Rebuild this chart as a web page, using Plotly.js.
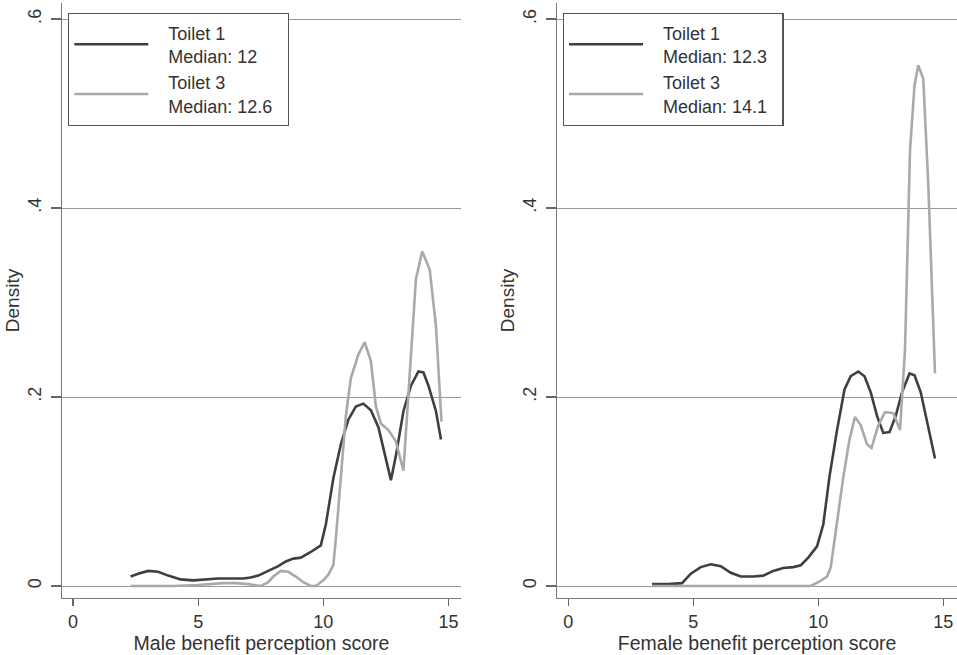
<!DOCTYPE html>
<html>
<head>
<meta charset="utf-8">
<script src="https://cdn.plot.ly/plotly-3.0.1.min.js"></script>
<style>html,body{margin:0;padding:0;background:#fff;}#chart{width:957px;height:655px;}</style>
</head>
<body>
<div id="chart"></div>
<script>
// Male panel
var maleX1 = [2.3, 2.6, 3.0, 3.4, 3.8, 4.3, 4.8, 5.3, 5.8, 6.3, 6.8, 7.1, 7.4, 7.8, 8.2, 8.5, 8.8, 9.1, 9.5, 9.9, 10.1, 10.4, 10.7, 11.0, 11.3, 11.6, 11.9, 12.2, 12.5, 12.7, 12.9, 13.2, 13.5, 13.8, 14.0, 14.2, 14.5, 14.7];
var maleY1 = [0.010, 0.013, 0.016, 0.015, 0.011, 0.007, 0.006, 0.007, 0.008, 0.008, 0.008, 0.009, 0.011, 0.016, 0.021, 0.026, 0.029, 0.030, 0.036, 0.043, 0.065, 0.114, 0.150, 0.176, 0.190, 0.193, 0.186, 0.168, 0.135, 0.112, 0.138, 0.185, 0.212, 0.227, 0.226, 0.212, 0.185, 0.155];
var maleX3 = [2.3, 3.0, 4.0, 5.0, 5.5, 6.0, 6.5, 7.0, 7.5, 7.8, 8.0, 8.3, 8.6, 8.9, 9.2, 9.5, 9.7, 10.0, 10.2, 10.4, 10.5, 10.7, 10.9, 11.1, 11.4, 11.65, 11.9, 12.1, 12.3, 12.6, 12.9, 13.2, 13.45, 13.7, 13.95, 14.25, 14.5, 14.72];
var maleY3 = [0.000, 0.000, 0.000, 0.001, 0.002, 0.003, 0.003, 0.002, 0.000, 0.004, 0.010, 0.016, 0.015, 0.010, 0.004, 0.000, 0.000, 0.006, 0.012, 0.022, 0.050, 0.120, 0.180, 0.220, 0.245, 0.258, 0.238, 0.190, 0.172, 0.165, 0.153, 0.122, 0.230, 0.325, 0.354, 0.335, 0.275, 0.174];
// Female panel
var femaleX1 = [3.35, 4.0, 4.55, 4.9, 5.3, 5.7, 6.1, 6.5, 6.9, 7.4, 7.8, 8.2, 8.6, 9.0, 9.3, 9.6, 9.95, 10.2, 10.45, 10.75, 11.05, 11.3, 11.6, 11.85, 12.1, 12.35, 12.6, 12.85, 13.1, 13.35, 13.65, 13.85, 14.1, 14.35, 14.67];
var femaleY1 = [0.002, 0.002, 0.003, 0.013, 0.020, 0.023, 0.021, 0.014, 0.010, 0.010, 0.011, 0.016, 0.019, 0.020, 0.022, 0.030, 0.042, 0.065, 0.116, 0.165, 0.208, 0.222, 0.227, 0.222, 0.205, 0.180, 0.162, 0.163, 0.180, 0.205, 0.225, 0.223, 0.205, 0.175, 0.135];
var femaleX3 = [3.35, 5.0, 7.0, 9.0, 9.7, 10.0, 10.35, 10.5, 10.75, 11.0, 11.25, 11.47, 11.7, 11.95, 12.13, 12.4, 12.67, 13.0, 13.27, 13.47, 13.67, 13.85, 14.0, 14.2, 14.4, 14.55, 14.67];
var femaleY3 = [0.000, 0.000, 0.000, 0.000, 0.000, 0.004, 0.010, 0.020, 0.070, 0.115, 0.155, 0.179, 0.170, 0.150, 0.146, 0.170, 0.184, 0.183, 0.165, 0.250, 0.461, 0.530, 0.551, 0.537, 0.426, 0.320, 0.225];

var legendMale = ['Toilet 1<br>Median: 12', 'Toilet 3<br>Median: 12.6'];
var legendFemale = ['Toilet 1<br>Median: 12.3', 'Toilet 3<br>Median: 14.1'];
var xTitles = ['Male benefit perception score', 'Female benefit perception score'];
var yTitle = 'Density';
var xTickVals = [0, 5, 10, 15];
var yTickVals = [0, 0.2, 0.4, 0.6];
var yTickText = ['0', '.2', '.4', '.6'];

// indent legend text (space between sample line and label, as in the reference)
function pad(s) { return s.split('<br>').map(function (t) { return '\u00a0\u00a0\u00a0' + t + '\u00a0\u00a0'; }).join('<br>'); }

var dark = '#3f3f3f', light = '#a9a9a9';
var traces = [
  {x: maleX1, y: maleY1, name: pad(legendMale[0]), mode: 'lines', line: {color: dark, width: 2.6}, xaxis: 'x', yaxis: 'y', legend: 'legend'},
  {x: maleX3, y: maleY3, name: pad(legendMale[1]), mode: 'lines', line: {color: light, width: 2.6}, xaxis: 'x', yaxis: 'y', legend: 'legend'},
  {x: femaleX1, y: femaleY1, name: pad(legendFemale[0]), mode: 'lines', line: {color: dark, width: 2.6}, xaxis: 'x2', yaxis: 'y2', legend: 'legend2'},
  {x: femaleX3, y: femaleY3, name: pad(legendFemale[1]), mode: 'lines', line: {color: light, width: 2.6}, xaxis: 'x2', yaxis: 'y2', legend: 'legend2'}
];

var W = 957, H = 655;
function xAxis(dom, rng, title) {
  return {domain: dom, range: rng, tickvals: xTickVals, ticks: 'outside', ticklen: 7, tickwidth: 1.3, tickcolor: '#666',
    tickfont: {size: 18, color: '#333'},
    showline: true, linecolor: '#777', linewidth: 1.3, showgrid: false, zeroline: false, automargin: false,
    ticklabelstandoff: 0, title: {text: title, standoff: 1, font: {size: 19.5, color: '#333'}}, fixedrange: true};
}
function yAxis(anchor) {
  return {domain: [(H - 598) / H, (H - 3) / H], range: [-0.0127, 0.617], tickvals: yTickVals, ticktext: yTickText,
    tickfont: {size: 18, color: '#333'},
    tickangle: -90, ticks: 'outside', ticklen: 10, tickwidth: 1.3, tickcolor: '#666', showline: true, linecolor: '#777', linewidth: 1.3,
    showgrid: true, gridcolor: '#9a9a9a', gridwidth: 1, zeroline: false, automargin: false, anchor: anchor,
    ticklabelstandoff: 3, title: {text: yTitle, standoff: 0, font: {size: 19, color: '#333'}}, fixedrange: true};
}
var layout = {
  width: W, height: H, margin: {l: 0, r: 0, t: 0, b: 0},
  paper_bgcolor: '#fff', plot_bgcolor: '#fff',
  font: {family: '"Liberation Sans", Arial, sans-serif', size: 19, color: '#333'},
  showlegend: true,
  xaxis: Object.assign(xAxis([62 / W, 461 / W], [-0.44, 15.5], xTitles[0]), {anchor: 'y'}),
  yaxis: yAxis('x'),
  xaxis2: Object.assign(xAxis([557.3 / W, 1], [-0.44, 15.55], xTitles[1]), {anchor: 'y2'}),
  yaxis2: yAxis('x2'),
  legend: {x: 68 / W, y: 1 - 13 / H, xanchor: 'left', yanchor: 'top', bordercolor: '#555', borderwidth: 1.3, bgcolor: '#fff',
    font: {size: 18, color: '#333'}, itemwidth: 74, tracegroupgap: 0, traceorder: 'normal'},
  legend2: {x: 562.7 / W, y: 1 - 13 / H, xanchor: 'left', yanchor: 'top', bordercolor: '#555', borderwidth: 1.3, bgcolor: '#fff',
    font: {size: 18, color: '#333'}, itemwidth: 74, tracegroupgap: 0, traceorder: 'normal'}
};
Plotly.newPlot('chart', traces, layout, {displayModeBar: false, staticPlot: true});
</script>
</body>
</html>
